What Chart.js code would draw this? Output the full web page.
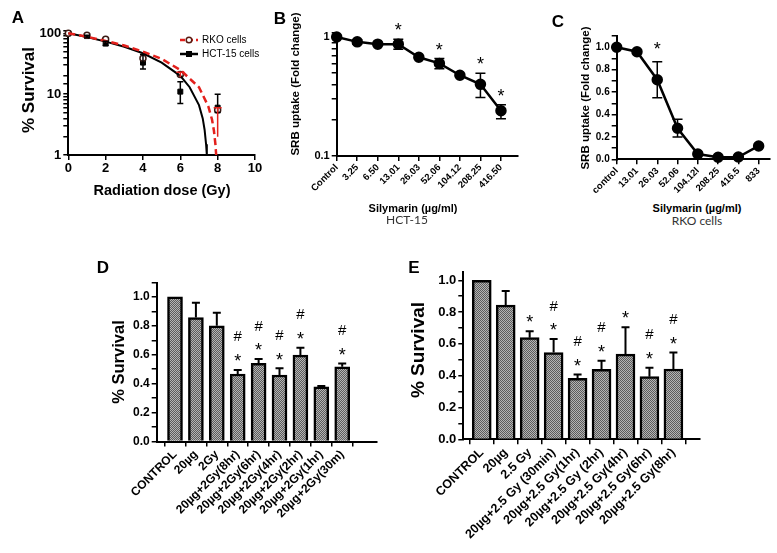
<!DOCTYPE html>
<html>
<head>
<meta charset="utf-8">
<script src="https://cdn.jsdelivr.net/npm/chart.js@4"></script>
<style>
  body { margin: 0; background: #fff; width: 777px; height: 553px; position: relative; overflow: hidden;
         font-family: 'Liberation Sans', Arial, sans-serif; }
  canvas { position: absolute; }
  .t { position: absolute; white-space: nowrap; font-weight: bold; color: #000; transform: translate(-50%, -50%); }
  .r { transform: translate(-50%, -50%) rotate(-90deg); }
  .sub { font-family: Lato, 'Open Sans', sans-serif; font-weight: normal; color: #333; }
</style>
</head>
<body>
<canvas id="chartA" width="265" height="185" style="left:0;top:0"></canvas>
<canvas id="chartB" width="255" height="200" style="left:270px;top:0"></canvas>
<canvas id="chartC" width="232" height="200" style="left:545px;top:0"></canvas>
<canvas id="chartD" width="295" height="278" style="left:90px;top:275px"></canvas>
<canvas id="chartE" width="310" height="288" style="left:395px;top:265px"></canvas>

<div class="t" style="left:18px;top:18px;font-size:17px">A</div>
<div class="t r" style="left:29px;top:90px;font-size:17px">% Survival</div>
<div class="t" style="left:162px;top:190px;font-size:14.5px">Radiation dose (Gy)</div>

<div class="t" style="left:280px;top:19px;font-size:17px">B</div>
<div class="t r" style="left:295px;top:84px;font-size:11.5px">SRB uptake (Fold change)</div>
<div class="t" style="left:413px;top:208px;font-size:11px">Silymarin (µg/ml)</div>
<div class="t sub" style="left:407px;top:219px;font-size:12px">HCT-15</div>

<div class="t" style="left:558px;top:22px;font-size:17px">C</div>
<div class="t r" style="left:585px;top:98px;font-size:11.5px">SRB uptake (Fold change)</div>
<div class="t" style="left:697px;top:208px;font-size:11px">Silymarin (µg/ml)</div>
<div class="t sub" style="left:697px;top:220px;font-size:12px">RKO cells</div>

<div class="t" style="left:103px;top:268px;font-size:17px">D</div>
<div class="t r" style="left:118px;top:362px;font-size:16.5px">% Survival</div>

<div class="t" style="left:414px;top:268px;font-size:17px">E</div>
<div class="t r" style="left:418px;top:350px;font-size:19px">% Survival</div>

<script>
// ---------- A: clonogenic survival
const doseGy = [0, 1, 2, 4, 6, 8];
const rkoSurvival = [100, 93, 80, 39, 21, 5.5];
const rkoLow = [100, 93, 80, 39, 19, 2];
const rkoHigh = [100, 93, 80, 39, 23, 6];
const hctSurvival = [100, 90, 68, 33, 11, 6];
const hctLow = [100, 87, 63, 26, 7, 5];
const hctHigh = [100, 93, 74, 45, 16, 10];
const rkoFitDose = [0, 1, 2, 3, 4, 5, 6, 7, 7.5, 7.7, 7.8, 7.88, 7.92];
const rkoFitSurvival = [100, 88, 75, 63, 50, 38, 25, 13, 6.3, 3.8, 2.5, 1.5, 1];
const hctFitDose = [0, 1, 2, 3, 4, 5, 6, 6.5, 7, 7.2, 7.3, 7.38, 7.42];
const hctFitSurvival = [100, 87, 73, 60, 47, 33, 20, 13, 6.6, 4, 2.6, 1.5, 1];

// ---------- B: HCT-15 SRB uptake
const hctDoseLabels = ['Control', '3.25', '6.50', '13.01', '26.03', '52.06', '104.12', '208.25', '416.50'];
const hctUptake = [1.0, 0.91, 0.87, 0.87, 0.675, 0.60, 0.477, 0.40, 0.24];
const hctUptakeLow = [1.0, 0.87, 0.87, 0.79, 0.675, 0.54, 0.477, 0.31, 0.206];
const hctUptakeHigh = [1.0, 0.95, 0.87, 0.956, 0.675, 0.66, 0.477, 0.495, 0.27];
const hctUptakeStar = [0, 0, 0, 1, 0, 1, 0, 1, 1];

// ---------- C: RKO SRB uptake
const rkoDoseLabels = ['control', '13.01', '26.03', '52.06', '104.12l', '208.25', '416.5', '833'];
const rkoUptake = [1.0, 0.96, 0.71, 0.277, 0.047, 0.018, 0.02, 0.119];
const rkoUptakeLow = [1.0, 0.96, 0.55, 0.20, 0.047, 0.018, 0.02, 0.119];
const rkoUptakeHigh = [1.0, 0.96, 0.87, 0.357, 0.047, 0.018, 0.02, 0.119];
const rkoUptakeStar = [0, 0, 1, 0, 0, 0, 0, 0];

// ---------- D: 2 Gy combinations
const dLabels = ['CONTROL', '20µg', '2Gy', '20µg+2Gy(8hr)', '20µg+2Gy(6hr)', '20µg+2Gy(4hr)', '20µg+2Gy(2hr)', '20µg+2Gy(1hr)', '20µg+2Gy(30m)'];
const dSurvival = [1.0, 0.857, 0.80, 0.467, 0.54, 0.46, 0.598, 0.379, 0.517];
const dErrTop = [1.0, 0.96, 0.89, 0.494, 0.57, 0.506, 0.648, 0.384, 0.54];
const dStar = [0, 0, 0, 1, 1, 1, 1, 0, 1];
const dHash = [0, 0, 0, 1, 1, 1, 1, 0, 1];

// ---------- E: 2.5 Gy combinations
const eLabels = ['CONTROL', '20µg', '2.5 Gy', '20µg+2.5 Gy (30min)', '20µg+2.5 Gy(1hr)', '20µg+2.5 Gy (2hr)', '20µg+2.5 Gy(4hr)', '20µg+2.5 Gy(6hr)', '20µg+2.5 Gy(8hr)'];
const eSurvival = [1.0, 0.844, 0.639, 0.545, 0.383, 0.44, 0.536, 0.394, 0.442];
const eErrTop = [1.0, 0.932, 0.68, 0.63, 0.408, 0.494, 0.704, 0.45, 0.545];
const eStar = [0, 0, 1, 1, 1, 1, 1, 1, 1];
const eHash = [0, 0, 0, 1, 1, 1, 0, 1, 1];

const RED = '#e3201c';
const FONT = "'Liberation Sans', Arial, sans-serif";
Chart.defaults.font.family = FONT;
Chart.defaults.color = '#000';
Chart.defaults.animation = false;
Chart.defaults.plugins.legend.display = false;
Chart.defaults.plugins.tooltip.enabled = false;

const idx = arr => arr.map((_, i) => i);

// scale helpers: fixed widths so the plot areas land where the figure has them
function yScale(width, extra) {
  return Object.assign({
    border: { color: '#000', width: 2 },
    grid: { drawOnChartArea: false, color: '#000', lineWidth: 1.5, tickLength: 5 },
    afterFit(s) { s.width = width; s.paddingTop = 0; s.paddingBottom = 0; }
  }, extra);
}
function xScale(height, extra) {
  return Object.assign({
    type: 'linear',
    border: { color: '#000', width: 2 },
    grid: { drawOnChartArea: false, color: '#000', lineWidth: 1.5, tickLength: 5 },
    afterFit(s) { s.height = height; s.paddingLeft = 0; s.paddingRight = 0; }
  }, extra);
}
function categoryTicks(labels, size) {
  return {
    afterBuildTicks(s) { s.ticks = labels.map((_, i) => ({ value: i })); },
    ticks: { autoSkip: false, minRotation: 45, maxRotation: 45, padding: 1,
             font: { size: size, weight: 'bold' }, callback: (v, i) => labels[i] }
  };
}
// 0.1 steps, labels every 0.2 up to 1.0
function fractionTicks(size) {
  return { autoSkip: false, includeBounds: false, stepSize: 0.1, padding: 2,
           font: { size: size, weight: 'bold' },
           callback: (v, i) => (i % 2 === 0 && v <= 1.0001 ? v.toFixed(1) : '') };
}

const errorBars = {
  id: 'errorBars',
  afterDatasetsDraw(chart, args, opts) {
    const ctx = chart.ctx, xs = chart.scales.x, ys = chart.scales.y;
    (opts.sets || []).forEach(set => {
      ctx.save();
      ctx.strokeStyle = set.color || '#000';
      ctx.lineWidth = set.width || 2;
      set.x.forEach((xv, i) => {
        const lo = set.lo[i], hi = set.hi[i];
        if (lo === hi) return;
        const px = xs.getPixelForValue(xv);
        const y1 = ys.getPixelForValue(lo), y2 = ys.getPixelForValue(hi);
        const cap = set.cap || 4;
        ctx.beginPath();
        ctx.moveTo(px, y1); ctx.lineTo(px, y2);
        ctx.moveTo(px - cap, y2); ctx.lineTo(px + cap, y2);
        if (set.bothCaps) { ctx.moveTo(px - cap, y1); ctx.lineTo(px + cap, y1); }
        ctx.stroke();
      });
      ctx.restore();
    });
  }
};

// * and # above the error bars
const sigMarks = {
  id: 'sigMarks',
  afterDatasetsDraw(chart, args, opts) {
    if (!opts.top) return;
    const ctx = chart.ctx, xs = chart.scales.x, ys = chart.scales.y;
    ctx.save();
    ctx.fillStyle = '#000';
    ctx.textAlign = 'center';
    ctx.textBaseline = 'alphabetic';
    opts.top.forEach((v, i) => {
      const px = xs.getPixelForValue(i);
      const starY = ys.getPixelForValue(v) - (opts.starGap || 14);
      if (opts.star && opts.star[i]) {
        ctx.font = '18px ' + FONT;
        ctx.fillText('*', px, starY + 18 * 0.62);
      }
      if (opts.hash && opts.hash[i]) {
        ctx.font = '15px ' + FONT;
        ctx.fillText('#', px, starY - (opts.hashGap || 20) + 15 * 0.36);
      }
    });
    ctx.restore();
  }
};

const legendA = {
  id: 'legendA',
  afterDraw(chart) {
    const ctx = chart.ctx;
    ctx.save();
    ctx.lineWidth = 2.5;
    ctx.strokeStyle = RED; ctx.setLineDash([5, 3]);
    ctx.beginPath(); ctx.moveTo(180, 40); ctx.lineTo(198, 40); ctx.stroke();
    ctx.setLineDash([]);
    ctx.strokeStyle = '#000';
    ctx.beginPath(); ctx.moveTo(180, 54); ctx.lineTo(198, 54); ctx.stroke();
    ctx.lineWidth = 1.5; ctx.fillStyle = '#fff'; ctx.strokeStyle = '#5a1a10';
    ctx.beginPath(); ctx.arc(189, 40, 2.8, 0, Math.PI * 2); ctx.fill(); ctx.stroke();
    ctx.fillStyle = '#000'; ctx.fillRect(186, 51, 6, 6);
    ctx.font = '10px ' + FONT; ctx.textBaseline = 'middle';
    ctx.fillText('RKO cells', 202, 40);
    ctx.fillText('HCT-15 cells', 202, 54);
    ctx.restore();
  }
};

function hatchPattern() {
  const c = document.createElement('canvas');
  c.width = 2; c.height = 2;
  const g = c.getContext('2d');
  g.fillStyle = '#b4b4b4'; g.fillRect(0, 0, 2, 2);
  g.fillStyle = '#5c5c5c'; g.fillRect(0, 0, 1, 1); g.fillRect(1, 1, 1, 1);
  return g.createPattern(c, 'repeat');
}

const pts = (xs, ys) => xs.map((x, i) => ({ x: x, y: ys[i] }));

// ---------- chart A
new Chart(document.getElementById('chartA'), {
  type: 'scatter',
  data: {
    datasets: [
      { data: pts(rkoFitDose, rkoFitSurvival), showLine: true, borderColor: RED, borderWidth: 2.5,
        borderDash: [7, 4], pointRadius: 0, clip: false },
      { data: pts(hctFitDose, hctFitSurvival), showLine: true, borderColor: '#000', borderWidth: 2,
        pointRadius: 0, clip: false },
      { data: pts(doseGy, rkoSurvival), pointStyle: 'circle', pointRadius: 3, borderWidth: 1.5,
        backgroundColor: '#fff', borderColor: '#3a1a14', clip: false },
      { data: pts(doseGy, hctSurvival), pointStyle: 'rect', pointRadius: 3.5,
        backgroundColor: '#000', borderColor: '#000', clip: false }
    ]
  },
  options: {
    responsive: false,
    layout: { padding: { top: 30.8, right: 10, left: 0, bottom: 0 } },
    scales: {
      x: xScale(30, { min: 0, max: 10,
        ticks: { stepSize: 2, padding: 1, font: { size: 13, weight: 'bold' } } }),
      y: yScale(68.3, { type: 'logarithmic', min: 1, max: 110,
        ticks: { autoSkip: false, padding: 2, font: { size: 13, weight: 'bold' },
                 callback: v => ([1, 10, 100].includes(v) ? String(v) : '') } })
    },
    plugins: {
      errorBars: { sets: [
        { x: doseGy, lo: hctLow, hi: hctHigh, color: '#000', width: 1.5, cap: 3, bothCaps: true },
        { x: doseGy, lo: rkoLow, hi: rkoHigh, color: RED, width: 1.5, cap: 0 }
      ] }
    }
  },
  plugins: [errorBars, legendA]
});

// ---------- chart B
new Chart(document.getElementById('chartB'), {
  type: 'scatter',
  data: {
    datasets: [{ data: pts(idx(hctUptake), hctUptake), showLine: true, borderColor: '#000',
                 borderWidth: 2.5, pointRadius: 4.5, backgroundColor: '#000', clip: false }]
  },
  options: {
    responsive: false,
    layout: { padding: { top: 33, right: 5, left: 0, bottom: 0 } },
    scales: {
      x: xScale(44, Object.assign({ min: 0, max: 8.83 }, categoryTicks(hctDoseLabels, 9.5))),
      y: yScale(66.7, { type: 'logarithmic', min: 0.1, max: 1.08,
        ticks: { autoSkip: false, padding: 2, font: { size: 11, weight: 'bold' },
                 callback: v => (Math.abs(v - 1) < 1e-9 ? '1' : Math.abs(v - 0.1) < 1e-9 ? '0.1' : '') } })
    },
    plugins: {
      errorBars: { sets: [{ x: idx(hctUptake), lo: hctUptakeLow, hi: hctUptakeHigh, width: 1.5, cap: 5, bothCaps: true }] },
      sigMarks: { top: hctUptakeHigh, star: hctUptakeStar, starGap: 14 }
    }
  },
  plugins: [errorBars, sigMarks]
});

// ---------- chart C
new Chart(document.getElementById('chartC'), {
  type: 'scatter',
  data: {
    datasets: [{ data: pts(idx(rkoUptake), rkoUptake), showLine: true, borderColor: '#000',
                 borderWidth: 2.5, pointRadius: 4.5, backgroundColor: '#000', clip: false }]
  },
  options: {
    responsive: false,
    layout: { padding: { top: 36, right: 5.3, left: 0, bottom: 0 } },
    scales: {
      x: xScale(40.7, Object.assign({ min: 0, max: 7.56 }, categoryTicks(rkoDoseLabels, 9.5))),
      y: yScale(71.7, { min: 0, max: 1.1, ticks: fractionTicks(10) })
    },
    plugins: {
      errorBars: { sets: [{ x: idx(rkoUptake), lo: rkoUptakeLow, hi: rkoUptakeHigh, width: 1.5, cap: 5, bothCaps: true }] },
      sigMarks: { top: rkoUptakeHigh, star: rkoUptakeStar, starGap: 18 }
    }
  },
  plugins: [errorBars, sigMarks]
});

// ---------- bar charts D and E
function barChart(id, labels, values, errTop, star, hash, geo) {
  return new Chart(document.getElementById(id), {
    type: 'bar',
    data: {
      datasets: [{ data: pts(idx(values), values), backgroundColor: hatchPattern(),
                   borderColor: '#000', borderWidth: 2.5, borderSkipped: 'start', barThickness: geo.bar }]
    },
    options: {
      responsive: false,
      layout: { padding: { top: geo.padTop, right: geo.padRight, left: 0, bottom: 0 } },
      scales: {
        x: xScale(geo.xH, Object.assign({ min: geo.xMin, max: geo.xMax, offset: false },
                  categoryTicks(labels, geo.xFont))),
        y: yScale(geo.yW, { min: 0, max: geo.yMax, ticks: fractionTicks(geo.yFont) })
      },
      plugins: {
        errorBars: { sets: [{ x: idx(values), lo: values, hi: errTop, width: 2, cap: 4 }] },
        sigMarks: { top: errTop, star: star, hash: hash, starGap: 14, hashGap: 20 }
      }
    },
    plugins: [errorBars, sigMarks]
  });
}

barChart('chartD', dLabels, dSurvival, dErrTop, dStar, dHash,
  { bar: 15, padTop: 7.5, padRight: 8.3, xH: 111.5, yW: 66.7, xMin: -0.876, xMax: 9.65,
    yMax: 1.1, xFont: 12, yFont: 12 });
barChart('chartE', eLabels, eSurvival, eErrTop, eStar, eHash,
  { bar: 19, padTop: 7.3, padRight: 5, xH: 113.7, yW: 68.3, xMin: -0.77, xMax: 9.11,
    yMax: 1.05, xFont: 12.5, yFont: 13 });
</script>
</body>
</html>
